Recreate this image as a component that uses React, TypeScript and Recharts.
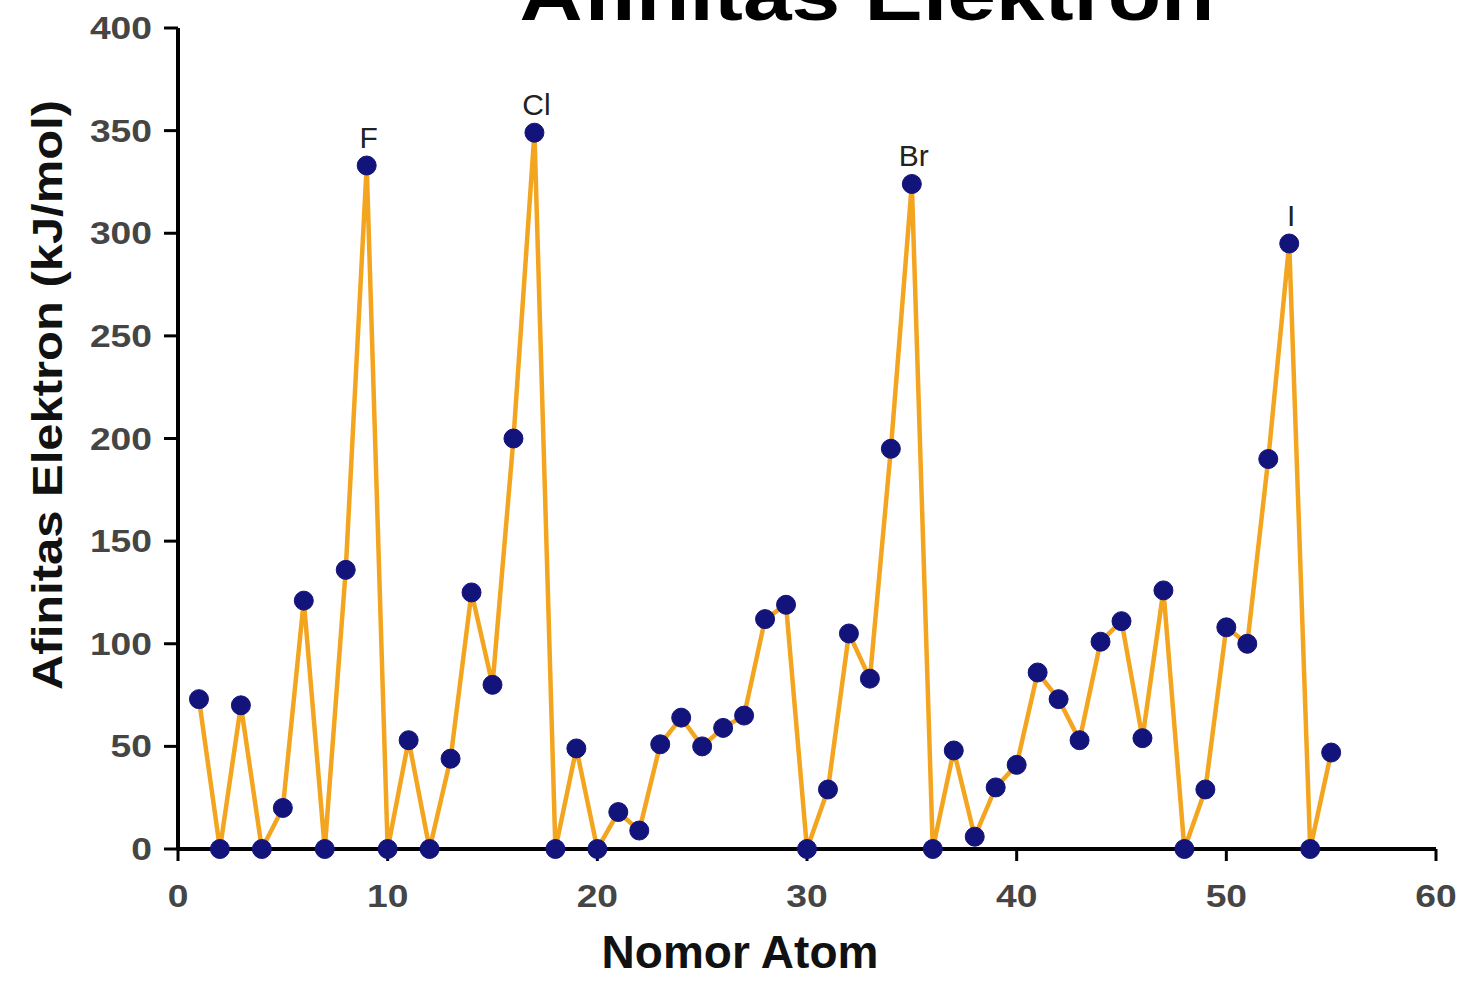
import React from "react";
import { LineChart, Line, XAxis, YAxis, LabelList } from "recharts";

const nomorAtom = [
  1, 2, 3, 4, 5, 6, 7, 8, 9, 10, 11, 12, 13, 14, 15, 16, 17, 18, 19, 20,
  21, 22, 23, 24, 25, 26, 27, 28, 29, 30, 31, 32, 33, 34, 35, 36, 37, 38, 39, 40,
  41, 42, 43, 44, 45, 46, 47, 48, 49, 50, 51, 52, 53, 54, 55,
];
const afinitas = [
  73, 0, 70, 0, 20, 121, 0, 136, 333, 0, 53, 0, 44, 125, 80, 200, 349, 0, 49, 0,
  18, 9, 51, 64, 50, 59, 65, 112, 119, 0, 29, 105, 83, 195, 324, 0, 48, 6, 30, 41,
  86, 73, 53, 101, 111, 54, 126, 0, 29, 108, 100, 190, 295, 0, 47,
];
const labelAtom = [9, 17, 35, 53];
const labelSimbol = ["F", "Cl", "Br", "I"];
const xTicks = [0, 10, 20, 30, 40, 50, 60];
const yTicks = [0, 50, 100, 150, 200, 250, 300, 350, 400];

const data = nomorAtom.map((n, i) => {
  const k = labelAtom.indexOf(n);
  return { n, v: afinitas[i], simbol: k >= 0 ? labelSimbol[k] : "" };
});

const FONT = "'Liberation Sans', Arial, sans-serif";
const LINE = "#f3a51f";
const DOT = "#13137c";
const TICK = "#454545";

function XTick({ x, y, payload }: any) {
  return (
    <text
      transform={`translate(${x},${y + 44}) scale(1.2,1)`}
      textAnchor="middle"
      fontSize={31}
      fontWeight="bold"
      fontFamily={FONT}
      fill={TICK}
    >
      {payload.value}
    </text>
  );
}

function YTick({ x, y, payload }: any) {
  return (
    <text
      transform={`translate(${x - 10},${y + 11}) scale(1.2,1)`}
      textAnchor="end"
      fontSize={31}
      fontWeight="bold"
      fontFamily={FONT}
      fill={TICK}
    >
      {payload.value}
    </text>
  );
}

function Simbol(props: any) {
  const { x, y, value } = props;
  if (!value) return null;
  return (
    <text
      x={x + 2}
      y={y - 18}
      textAnchor="middle"
      fontSize={30}
      fontFamily={FONT}
      fill="#222"
    >
      {value}
    </text>
  );
}

export default function App() {
  return (
    <div style={{ position: "absolute", left: 0, top: 0, width: 1468, height: 982, background: "#fff" }}>
      <svg width={1468} height={60} style={{ position: "absolute", left: 0, top: 0 }}>
        <text
          x={867}
          y={20}
          textAnchor="middle"
          fontSize={74}
          fontWeight="bold"
          fontFamily={FONT}
          textLength={695}
          lengthAdjust="spacingAndGlyphs"
          fill="#000"
        >
          Afinitas Elektron
        </text>
      </svg>
      <svg width={120} height={982} style={{ position: "absolute", left: 0, top: 0 }}>
        <text
          transform="translate(62,395) rotate(-90)"
          textAnchor="middle"
          fontSize={42}
          fontWeight="bold"
          fontFamily={FONT}
          textLength={590}
          lengthAdjust="spacingAndGlyphs"
          fill="#111"
        >
          Afinitas Elektron (kJ/mol)
        </text>
      </svg>
      <svg width={1468} height={982} style={{ position: "absolute", left: 0, top: 0 }}>
        <text
          x={740}
          y={968}
          textAnchor="middle"
          fontSize={46}
          fontWeight="bold"
          fontFamily={FONT}
          fill="#111"
        >
          Nomor Atom
        </text>
      </svg>
      <LineChart
        width={1468}
        height={982}
        data={data}
        margin={{ top: 28, right: 32, bottom: 73, left: 0 }}
        style={{ position: "absolute", left: 0, top: 0 }}
      >
        <XAxis
          dataKey="n"
          type="number"
          domain={[0, 60]}
          ticks={xTicks}
          height={60}
          tickSize={12}
          axisLine={{ stroke: "#000", strokeWidth: 4 }}
          tickLine={{ stroke: "#000", strokeWidth: 3 }}
          tick={<XTick />}
        />
        <YAxis
          type="number"
          domain={[0, 400]}
          ticks={yTicks}
          width={178}
          tickSize={14}
          axisLine={{ stroke: "#000", strokeWidth: 4 }}
          tickLine={{ stroke: "#000", strokeWidth: 3 }}
          tick={<YTick />}
        />
        <Line
          dataKey="v"
          stroke={LINE}
          strokeWidth={4.5}
          isAnimationActive={false}
          dot={{ r: 9.5, fill: DOT, stroke: DOT, strokeWidth: 1 }}
          activeDot={false}
        >
          <LabelList dataKey="simbol" content={<Simbol />} />
        </Line>
      </LineChart>
    </div>
  );
}
